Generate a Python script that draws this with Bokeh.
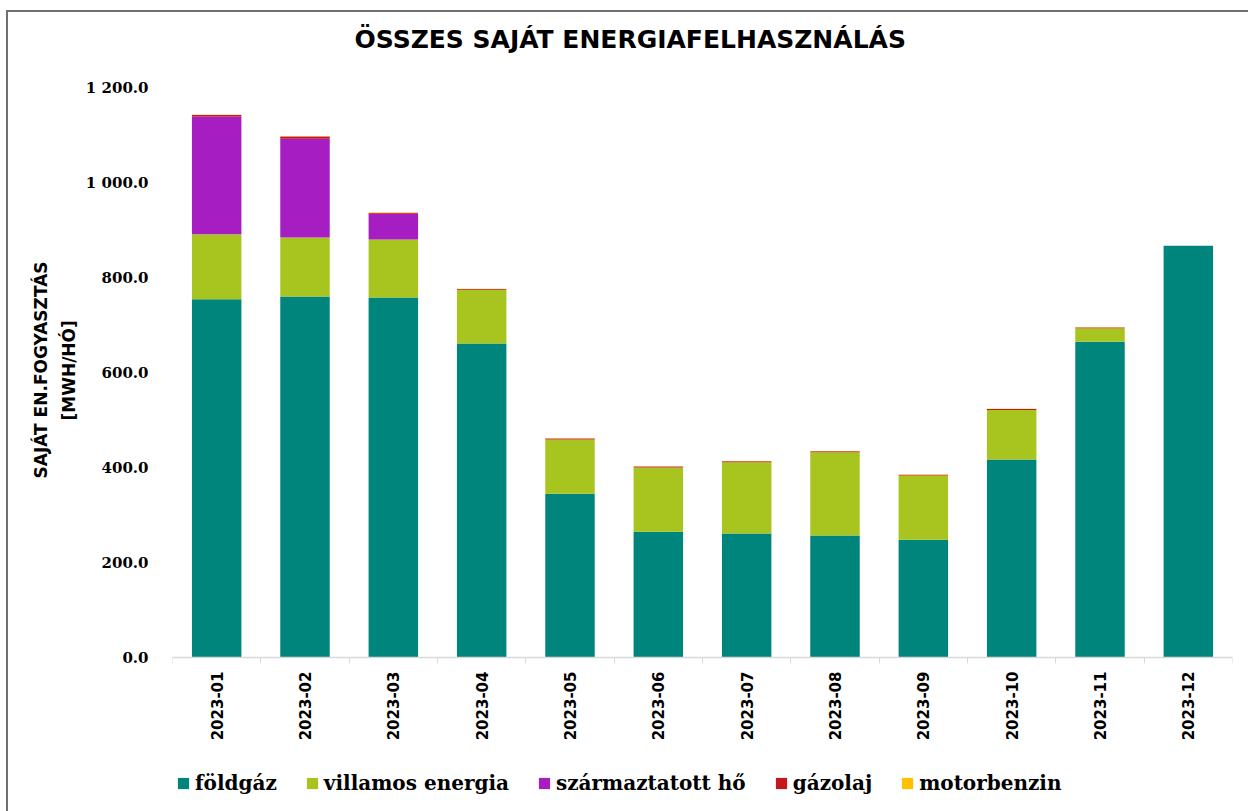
from bokeh.plotting import figure
from bokeh.models import FixedTicker, Legend, LegendItem, ColumnDataSource, Title
from bokeh.embed import file_html
from bokeh.resources import INLINE

months = ["2023-01", "2023-02", "2023-03", "2023-04", "2023-05", "2023-06",
          "2023-07", "2023-08", "2023-09", "2023-10", "2023-11", "2023-12"]
foldgaz = [754, 760, 758, 661, 345, 265, 261, 257, 248, 417, 665, 867]
villamos = [137, 124, 122, 113, 114, 135, 150, 175, 135, 104, 28, 0]
szarmaztatott = [248, 208, 54, 0, 0, 0, 0, 0, 0, 0, 0, 0]
gazolaj = [3, 5, 2, 2, 2, 2, 2, 2, 2, 2, 2, 0]
motorbenzin = [0.5, 0.5, 1, 0.5, 0.5, 0.5, 0.5, 0.5, 0.5, 0.5, 0.5, 0]

series = ["földgáz", "villamos energia", "származtatott hő", "gázolaj", "motorbenzin"]
colors = ["#00857D", "#A8C41E", "#A61EC2", "#C4161C", "#FFC000"]
y_ticks = [0, 200, 400, 600, 800, 1000, 1200]
y_labels = ["0.0", "200.0", "400.0", "600.0", "800.0", "1 000.0", "1 200.0"]
y_title_lines = ["SAJÁT EN.FOGYASZTÁS", "[MWH/HÓ]"]

# layout: value axis 0..1200 spans 570 px; frame extends below 0 to hold labels + legend
PLOT_H = 570
FRAME_H = 724
Y_MAX = 1200
Y_MIN = -(FRAME_H - PLOT_H) * Y_MAX / PLOT_H

x = [i + 0.5 for i in range(len(months))]
src = ColumnDataSource(dict(x=x, s0=foldgaz, s1=villamos, s2=szarmaztatott,
                            s3=gazolaj, s4=motorbenzin))

p = figure(frame_width=1060, frame_height=FRAME_H, output_backend="svg", toolbar_location=None,
           x_range=(0, len(months)), y_range=(Y_MIN, Y_MAX),
           min_border_left=164, min_border_right=16, min_border_top=75,
           min_border_bottom=0,
           styles={"border-left": "2px solid #707070", "border-top": "2px solid #707070",
                   "margin-left": "6px", "margin-top": "10px"})

renderers = p.vbar_stack(["s0", "s1", "s2", "s3", "s4"], x="x", width=0.56,
                         color=colors, source=src, line_color=None)

p.title.text = "ÖSSZES SAJÁT ENERGIAFELHASZNÁLÁS\n"
p.title.text_font = "DejaVu Sans"
p.title.text_font_style = "bold"
p.title.text_font_size = "25px"
p.title.align = "left"
p.title.offset = 182
p.title.standoff = 10
p.title.text_color = "#000000"

p.xgrid.visible = False
p.ygrid.visible = False
p.outline_line_color = None

# x axis, drawn at value 0
p.xaxis.fixed_location = 0
p.xaxis.ticker = FixedTicker(ticks=x, minor_ticks=list(range(len(months) + 1)))
p.xaxis.major_label_overrides = {xx: m for xx, m in zip(x, months)}
p.xaxis.major_label_orientation = 1.5708
p.xaxis.major_tick_line_color = None
p.xaxis.minor_tick_line_color = "#D9D9D9"
p.xaxis.minor_tick_out = 6
p.xaxis.minor_tick_in = 0
p.xaxis.axis_line_color = "#D9D9D9"
p.xaxis.axis_line_width = 1.5
p.xaxis.major_label_text_font = "DejaVu Sans"
p.xaxis.major_label_text_font_style = "bold"
p.xaxis.major_label_text_font_size = "15px"
p.xaxis.major_label_text_color = "#000000"
p.xaxis.major_label_standoff = 8

# y axis
p.yaxis.ticker = FixedTicker(ticks=y_ticks)
p.yaxis.major_label_overrides = {t: l for t, l in zip(y_ticks, y_labels)}
p.yaxis.axis_line_color = None
p.yaxis.major_tick_line_color = None
p.yaxis.minor_tick_line_color = None
p.yaxis.major_label_text_font = "DejaVu Serif"
p.yaxis.major_label_text_font_style = "bold"
p.yaxis.major_label_text_font_size = "15px"
p.yaxis.major_label_text_color = "#000000"
p.yaxis.major_label_standoff = 18

# y axis title as two rotated lines, placed along the 0..1200 part of the axis
for text, offset, standoff in [(y_title_lines[1], 391, 8), (y_title_lines[0], 333, 4)]:
    t = Title(text=text, align="left", offset=offset, standoff=standoff,
              vertical_align="bottom", text_font="DejaVu Sans", text_font_style="bold",
              text_font_size="17px", text_color="#000000")
    p.add_layout(t, "left")

legend = Legend(items=[LegendItem(label=s, renderers=[r]) for s, r in zip(series, renderers)],
                orientation="horizontal", location=(4, 16),
                label_text_font="DejaVu Serif", label_text_font_style="bold",
                label_text_font_size="20px", label_text_color="#000000",
                glyph_width=14, glyph_height=14, spacing=28, label_standoff=5,
                border_line_color=None, background_fill_alpha=0,
                padding=6, margin=0)
p.add_layout(legend, "center")

open("out.html", "w").write(file_html(p, INLINE))
